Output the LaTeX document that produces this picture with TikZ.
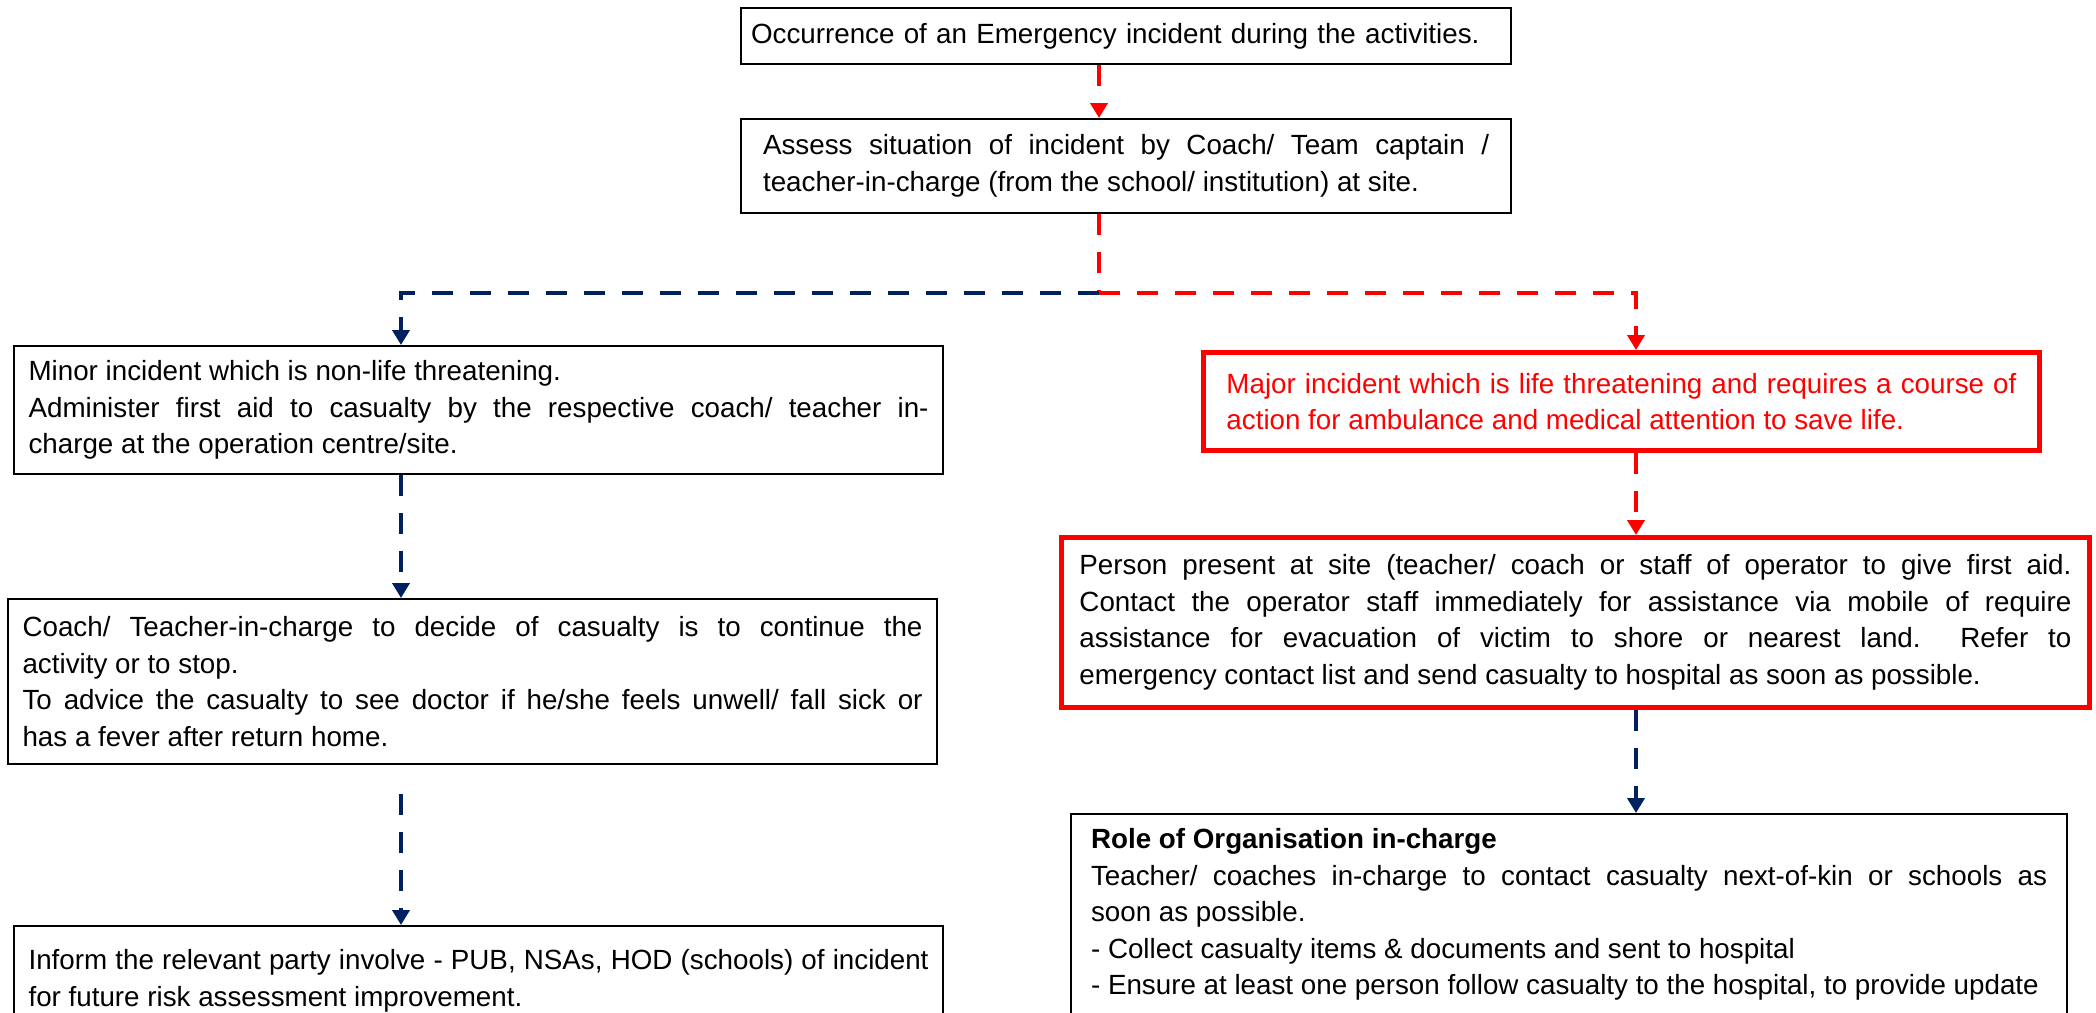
\documentclass[tikz,border=0pt]{standalone}
\usepackage{fontspec}
\setmainfont{Liberation Sans}
\usetikzlibrary{arrows.meta}
\definecolor{navy}{HTML}{002060}
\definecolor{alarm}{HTML}{FF0000}
\begin{document}
\begin{tikzpicture}[%
% common options for the boxes:
box/.style = {draw, line width=0.6pt, anchor=north west, align=justify,
            inner ysep=0, font=\fontsize{7.9}{10.4}\selectfont},
% boxes of the life threatening branch:
redbox/.style = {box, draw=alarm, line width=1.4pt},
% common options for the dashed connectors:
dashline/.style = {dash pattern=on 0.21cm off 0.17cm, line width=1.15pt},
navylink/.style = {dashline, draw=navy},
redlink/.style = {dashline, draw=alarm},
arrowed/.style = {-{Triangle[length=0.15cm,width=0.17cm]}}]
\useasboundingbox (0,0) rectangle (20.96,-10.12);
\node[box, text width=7.50cm, inner xsep=0.10cm, minimum height=0.56cm, align=left] (occur) at (7.40,-0.07) {Occurrence of an Emergency incident during the activities.};
\node[box, text width=7.26cm, inner xsep=0.22cm, minimum height=0.94cm] (assess) at (7.40,-1.18) {Assess situation of incident by Coach/ Team captain /\linebreak teacher-in-charge (from the school/ institution) at site.};
\node[box, text width=9.0cm, inner xsep=0.145cm, minimum height=1.28cm] (minor) at (0.13,-3.45) {Minor incident which is non-life threatening.\\ Administer first aid to casualty by the respective coach/ teacher in-\linebreak charge at the operation centre/site.};
\node[box, text width=9.0cm, inner xsep=0.145cm, minimum height=1.65cm] (decide) at (0.07,-5.98) {Coach/ Teacher-in-charge to decide of casualty is to continue the\linebreak activity or to stop.\\ To advice the casualty to see doctor if he/she feels unwell/ fall sick or\linebreak has a fever after return home.};
\node[box, text width=9.0cm, inner xsep=0.145cm, minimum height=1.10cm] (inform) at (0.13,-9.25) {Inform the relevant party involve - PUB, NSAs, HOD (schools) of incident\linebreak for future risk assessment improvement.};
\node[redbox, text=alarm, text width=7.90cm, inner xsep=0.23cm, minimum height=0.98cm] (major) at (12.01,-3.50) {Major incident which is life threatening and requires a course of\linebreak action for ambulance and medical attention to save life.};
\node[redbox, text width=9.92cm, inner xsep=0.18cm, minimum height=1.70cm] (person) at (10.59,-5.35) {Person present at site (teacher/ coach or staff of operator to give first aid.\linebreak Contact the operator staff immediately for assistance via mobile of require\linebreak assistance for evacuation of victim to shore or nearest land.\ \ Refer to\linebreak emergency contact list and send casualty to hospital as soon as possible.};
\node[box, text width=9.56cm, inner xsep=0.20cm, minimum height=2.01cm] (role) at (10.70,-8.13) {\textbf{Role of Organisation in-charge}\\ Teacher/ coaches in-charge to contact casualty next-of-kin or schools as\linebreak soon as possible.\\ - Collect casualty items \& documents and sent to hospital\\ - Ensure at least one person follow casualty to the hospital, to provide update};
% where the two branches part
\coordinate (split) at (10.99,-2.93);
\coordinate (lx) at (4.01,-2.93);
\coordinate (rx) at (16.36,-2.93);
\draw[redlink, arrowed] (split |- occur.south) -- (split |- assess.north);
\draw[redlink] (split |- assess.south) -- (split);
\draw[navylink, arrowed] (split) -- (lx) -- (lx |- minor.north);
\draw[redlink, arrowed] (split) -- (rx) -- (rx |- major.north);
\draw[navylink, arrowed] (lx |- minor.south) -- (lx |- decide.north);
\draw[navylink, arrowed, shorten <=0.29cm] (lx |- decide.south) -- (lx |- inform.north);
\draw[redlink, arrowed] (rx |- major.south) -- (rx |- person.north);
\draw[navylink, arrowed] (rx |- person.south) -- (rx |- role.north);
\end{tikzpicture}
\end{document}
